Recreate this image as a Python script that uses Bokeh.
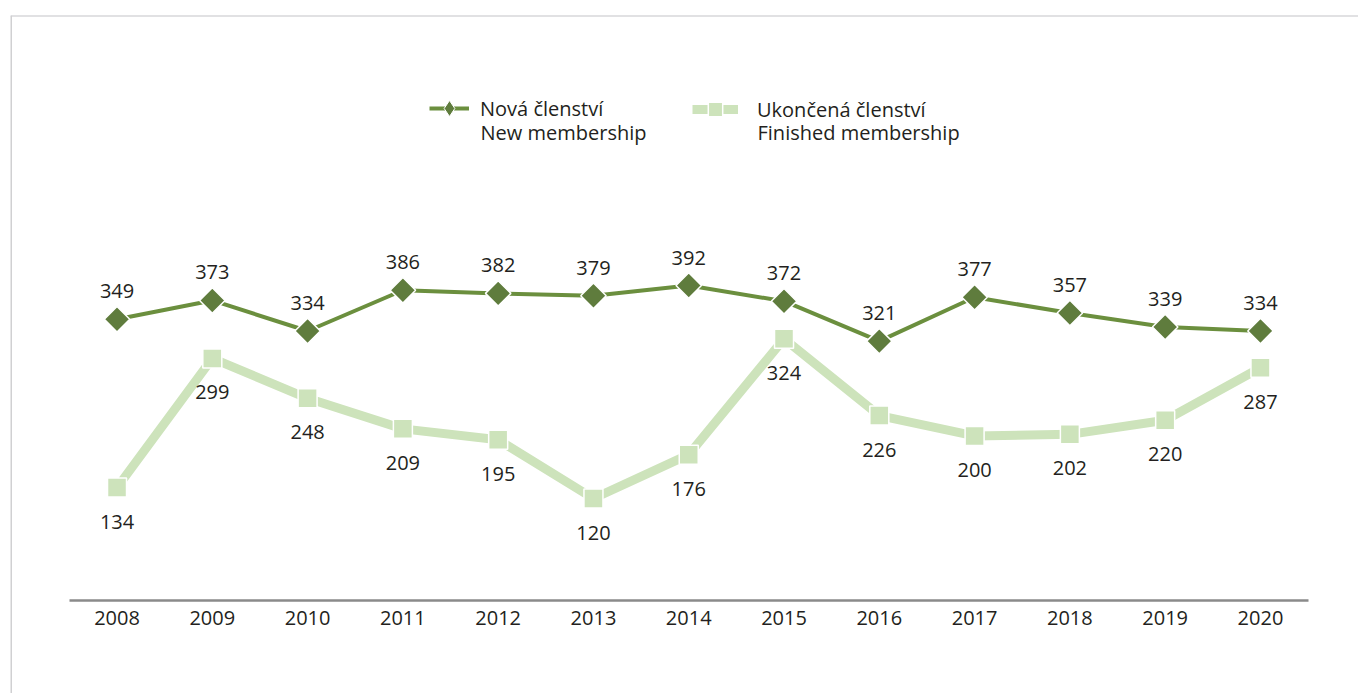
import numpy as np
from bokeh.plotting import figure
from bokeh.models import (ColumnDataSource, FixedTicker, Range1d, Span, Legend,
                          LegendItem, LinearAxis, Label)
from bokeh.core.properties import value
from bokeh.embed import file_html
from bokeh.resources import INLINE

# ---- data ----
years = [2008, 2009, 2010, 2011, 2012, 2013, 2014, 2015, 2016, 2017, 2018, 2019, 2020]
new_membership = [349, 373, 334, 386, 382, 379, 392, 372, 321, 377, 357, 339, 334]
finished_membership = [134, 299, 248, 209, 195, 120, 176, 324, 226, 200, 202, 220, 287]
tick_labels = [str(y) for y in years]
series_cz = ["Nová členství", "Ukončená členství"]
series_en = ["New membership", "Finished membership"]

# ---- style ----
DARK_LINE = "#6b8f3e"
DARK_MARK = "#5f7c3d"
LIGHT = "#cde3bb"
TEXT = "#231f20"
FONT = "Open Sans"

W, H = 1358, 693
FRAME_LEFT, FRAME_TOP = 10, 15
x_start, x_end = 2006.882, 2021.029
y_start, y_end = -129.0, 736.9
baseline = -10.2

p = figure(width=W, height=H, output_backend="svg", toolbar_location=None,
           x_range=Range1d(x_start, x_end), y_range=Range1d(y_start, y_end),
           x_axis_location=None, y_axis_location=None,
           min_border_left=FRAME_LEFT, min_border_top=FRAME_TOP,
           min_border_right=0, min_border_bottom=0)
p.outline_line_color = None
p.background_fill_color = "white"
p.border_fill_color = "white"
p.xgrid.grid_line_color = None
p.ygrid.grid_line_color = None

# frame borders (top / left)
p.add_layout(Span(location=y_end, dimension="width", line_color="#c3c3c7", line_width=2))
p.add_layout(Span(location=x_start, dimension="height", line_color="#d0d0d2", line_width=3))

# x axis at the baseline
xaxis = LinearAxis(ticker=FixedTicker(ticks=years), fixed_location=baseline,
                   bounds=(years[0] - 0.5, years[-1] + 0.5))
xaxis.major_label_overrides = {y: lbl for y, lbl in zip(years, tick_labels)}
xaxis.axis_line_color = "#8a8a8a"
xaxis.axis_line_width = 2.5
xaxis.major_tick_line_color = None
xaxis.minor_tick_line_color = None
xaxis.major_label_text_font = FONT
xaxis.major_label_text_font_size = "20px"
xaxis.major_label_text_color = TEXT
xaxis.major_label_standoff = 5
p.add_layout(xaxis, "below")

src = ColumnDataSource(dict(
    year=years, new=new_membership, fin=finished_membership,
    new_lbl=[str(v) for v in new_membership],
    fin_lbl=[str(v) for v in finished_membership],
))

l_fin = p.line("year", "fin", source=src, line_color=LIGHT, line_width=9)
s_fin = p.scatter("year", "fin", source=src, marker="square", size=19,
                  fill_color=LIGHT, line_color="white", line_width=1.5)
l_new = p.line("year", "new", source=src, line_color=DARK_LINE, line_width=4)
# diamond marker used for the legend sample (hidden under the rotated squares)
leg_diamond = p.scatter("year", "new", source=src, marker="diamond", size=10,
                        fill_color=DARK_MARK, line_color="white", line_width=1)
s_new = p.scatter("year", "new", source=src, marker="square", angle=np.pi / 4, size=18,
                  fill_color=DARK_MARK, line_color="white", line_width=1.5)

p.text("year", "new", text="new_lbl", source=src, y_offset=-28,
       text_align="center", text_baseline="middle", text_font=value(FONT),
       text_font_size="20px", text_color=TEXT)
p.text("year", "fin", text="fin_lbl", source=src, y_offset=34,
       text_align="center", text_baseline="middle", text_font=value(FONT),
       text_font_size="20px", text_color=TEXT)

common = dict(padding=0, margin=0, border_line_color=None, background_fill_alpha=0,
              label_text_font=FONT, label_text_font_size="20px",
              label_text_color=TEXT, label_height=24)

leg_a = Legend(items=[LegendItem(label=series_cz[0], renderers=[l_new, leg_diamond])],
               location=(419, 565), glyph_width=40, glyph_height=40,
               label_standoff=11, **common)
leg_c = Legend(items=[LegendItem(label=series_cz[1], renderers=[l_fin, s_fin])],
               location=(682, 566), glyph_width=46, glyph_height=36,
               label_standoff=19, **common)
p.add_layout(leg_a, "center")
p.add_layout(leg_c, "center")

for txt, x in ((series_en[0], 470), (series_en[1], 747)):
    p.add_layout(Label(x=x, y=561, x_units="screen", y_units="screen", text=txt,
                       text_baseline="middle", text_font=FONT, text_font_size="20px",
                       text_color=TEXT))

open("out.html", "w").write(file_html(p, INLINE))
